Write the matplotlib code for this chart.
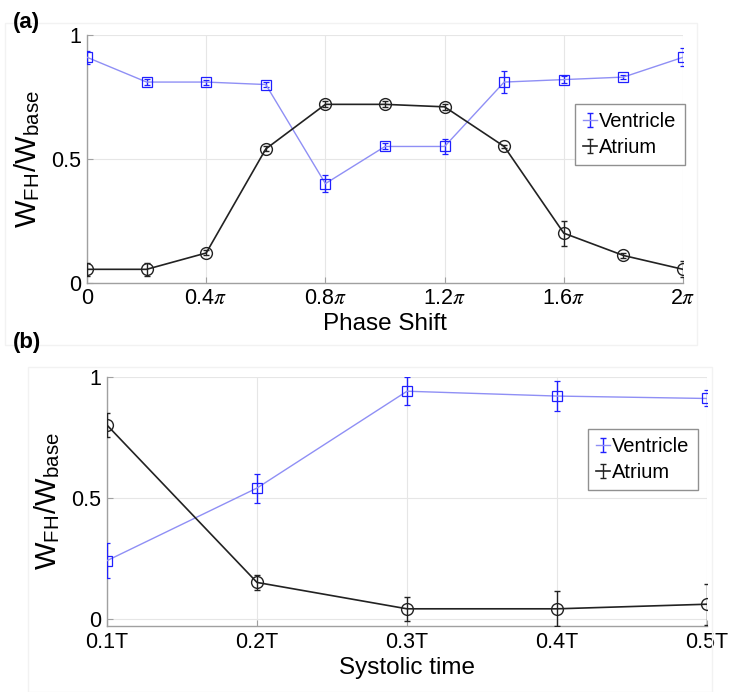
import numpy as np
import matplotlib
matplotlib.use('Agg')
import matplotlib.pyplot as plt
from matplotlib.patches import Rectangle
from matplotlib.container import ErrorbarContainer
from matplotlib.legend_handler import HandlerErrorbar

plt.rcParams['font.family'] = ['Liberation Sans', 'DejaVu Sans']
plt.rcParams['mathtext.fontset'] = 'stix'

# panel (a): phase shift in units of pi
phase = [0.0, 0.2, 0.4, 0.6, 0.8, 1.0, 1.2, 1.4, 1.6, 1.8, 2.0]
vent_a = [0.91, 0.81, 0.81, 0.80, 0.40, 0.55, 0.55, 0.81, 0.82, 0.83, 0.91]
vent_a_err = [0.027, 0.012, 0.01, 0.01, 0.035, 0.012, 0.03, 0.044, 0.015, 0.008, 0.036]
atr_a = [0.054, 0.054, 0.12, 0.54, 0.72, 0.72, 0.71, 0.55, 0.20, 0.11, 0.054]
atr_a_err = [0.025, 0.025, 0.01, 0.01, 0.012, 0.012, 0.012, 0.005, 0.05, 0.01, 0.033]
phase_ticks = [0.0, 0.4, 0.8, 1.2, 1.6, 2.0]
phase_labels = ['0', r'0.4$\pi$', r'0.8$\pi$', r'1.2$\pi$', r'1.6$\pi$', r'2$\pi$']

# panel (b): systolic time
systolic = [0.1, 0.2, 0.3, 0.4, 0.5]
vent_b = [0.24, 0.54, 0.94, 0.92, 0.91]
vent_b_err = [0.072, 0.06, 0.058, 0.063, 0.033]
atr_b = [0.80, 0.15, 0.041, 0.041, 0.06]
atr_b_err = [0.05, 0.03, 0.05, 0.072, 0.084]
sys_labels = ['0.1T', '0.2T', '0.3T', '0.4T', '0.5T']

ylab = r'W$_\mathregular{FH}$/W$_\mathregular{base}$'

VLINE = '#8f8ff5'
VMARK = '#2020ff'
ACOL = '#222222'


def draw(ax, x, v, verr, a, aerr):
    ax.errorbar(x, v, yerr=verr, color=VLINE, ecolor=VMARK, lw=1.0,
                elinewidth=1.0, capsize=2, marker='s', ms=6.5, mfc='none',
                mec=VMARK, mew=0.9, zorder=3)
    ax.errorbar(x, a, yerr=aerr, color=ACOL, ecolor=ACOL, lw=1.2,
                elinewidth=1.0, capsize=2, marker='o', ms=8.5, mfc='none',
                mec=ACOL, mew=1.0, zorder=3)
    # legend proxies: error bar glyph only, like the matlab legend
    hv = ax.errorbar([np.nan], [np.nan], yerr=[0.1], color=VLINE, ecolor=VMARK,
                     lw=1.0, elinewidth=1.0, capsize=2, label='Ventricle')
    ha = ax.errorbar([np.nan], [np.nan], yerr=[0.1], color=ACOL, ecolor=ACOL,
                     lw=1.2, elinewidth=1.0, capsize=2, label='Atrium')
    ax.grid(True, color='#e6e6e6', lw=0.8)
    ax.set_axisbelow(True)
    for s in ['top', 'right']:
        ax.spines[s].set_visible(False)
    for s in ['left', 'bottom']:
        ax.spines[s].set_color('#a0a0a0')
        ax.spines[s].set_linewidth(1.0)
    ax.tick_params(direction='in', length=4, color='#a0a0a0', labelsize=15.5,
                   pad=4)
    ax.set_yticks([0, 0.5, 1])
    ax.set_yticklabels(['0', '0.5', '1'])
    ax.set_ylabel(ylab, fontsize=21, labelpad=7)
    return [hv, ha]


def add_legend(ax, handles, anchor):
    ax.legend(handles=handles, loc='upper left', bbox_to_anchor=anchor,
              fontsize=14.5, handlelength=0.7, handletextpad=0.1,
              borderpad=0.4, labelspacing=0.35, borderaxespad=0,
              frameon=True, fancybox=False, edgecolor='#909090', framealpha=1,
              handler_map={ErrorbarContainer: HandlerErrorbar(yerr_size=0.35)})


fig = plt.figure(figsize=(7.3, 6.92), dpi=100)

# faint panel frames
fig.patches.append(Rectangle((5 / 730, 1 - 345 / 692), 692 / 730, 322 / 692,
                             transform=fig.transFigure, fill=False,
                             ec='#f2f2f2', lw=1))
fig.patches.append(Rectangle((28 / 730, 0), 684 / 730, 1 - 367 / 692,
                             transform=fig.transFigure, fill=False,
                             ec='#f2f2f2', lw=1))

ax1 = fig.add_axes([87 / 730, 1 - 282.7 / 692, 596 / 730, 247.7 / 692])
h1 = draw(ax1, np.array(phase) * np.pi, vent_a, vent_a_err, atr_a, atr_a_err)
ax1.set_xlim(0, 2 * np.pi)
ax1.set_ylim(0, 1)
ax1.set_xticks(np.array(phase_ticks) * np.pi)
ax1.set_xticklabels(phase_labels)
ax1.set_xlabel('Phase Shift', fontsize=17.5, labelpad=3)
add_legend(ax1, h1, (488 / 596, 1 - 69 / 247.7))

ax2 = fig.add_axes([107 / 730, 1 - 626 / 692, 600 / 730, 249.3 / 692])
h2 = draw(ax2, systolic, vent_b, vent_b_err, atr_b, atr_b_err)
ax2.set_xlim(0.1, 0.5)
ax2.set_ylim(-0.03, 1)
ax2.set_xticks(systolic)
ax2.set_xticklabels(sys_labels)
ax2.set_xlabel('Systolic time', fontsize=17.5, labelpad=3)
add_legend(ax2, h2, (481 / 600, 1 - 52 / 249.3))

fig.text(13 / 730, 1 - 28 / 692, '(a)', fontsize=16, fontweight='bold')
fig.text(13 / 730, 1 - 348 / 692, '(b)', fontsize=16, fontweight='bold')

fig.savefig('out.png', dpi=100, facecolor='white')
